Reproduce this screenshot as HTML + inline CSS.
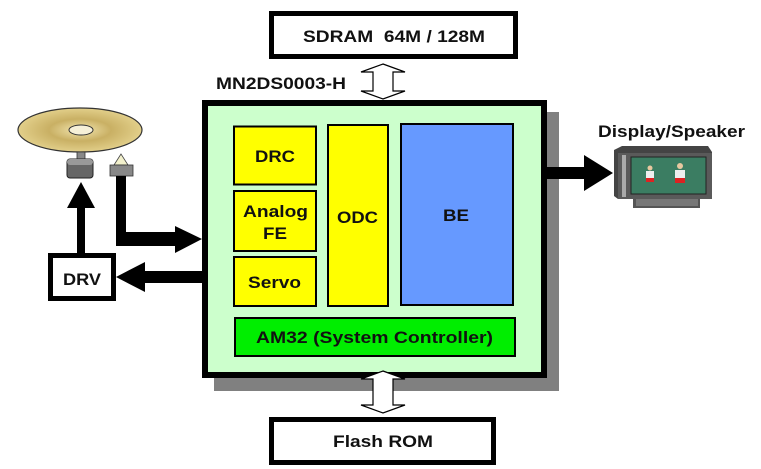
<!DOCTYPE html>
<html><head><meta charset="utf-8"><style>
html,body{margin:0;padding:0;background:#fff;width:761px;height:469px;overflow:hidden}
text{font-family:"Liberation Sans",Arial,sans-serif;font-weight:bold;fill:#111}
</style></head><body>
<svg width="761" height="469" viewBox="0 0 761 469" xmlns="http://www.w3.org/2000/svg">
<defs>
<radialGradient id="dg" cx="50%" cy="50%" r="50%">
<stop offset="0" stop-color="#f3e6b0"/><stop offset="0.5" stop-color="#c9b064"/><stop offset="1" stop-color="#e2cf8a"/>
</radialGradient>
</defs>
<rect x="271.5" y="13.5" width="244" height="43" fill="#fff" stroke="#000" stroke-width="5"/>
<text x="303" y="42" font-size="17" textLength="182" lengthAdjust="spacingAndGlyphs">SDRAM&#160; 64M / 128M</text>
<text x="216" y="89" font-size="17" textLength="130" lengthAdjust="spacingAndGlyphs">MN2DS0003-H</text>
<polygon points="383,64 405,72 393,72 393,91 405,91 383,99 361,91 373,91 373,72 361,72" fill="#fff" stroke="#000" stroke-width="1.2"/>
<rect x="214" y="112" width="345" height="279" fill="#808080"/>
<rect x="205" y="103" width="339" height="272" fill="#ccffcc" stroke="#000" stroke-width="6"/>
<polygon points="383,371 405,379 393,379 393,405 405,405 383,413 361,405 373,405 373,379 361,379" fill="#fff" stroke="#000" stroke-width="1.2"/>
<rect x="234" y="126.5" width="82" height="58" fill="#ffff00" stroke="#000" stroke-width="2"/>
<text x="255" y="162" font-size="17" textLength="40" lengthAdjust="spacingAndGlyphs">DRC</text>
<rect x="234" y="191" width="82" height="60" fill="#ffff00" stroke="#000" stroke-width="2"/>
<text x="243" y="217" font-size="17" textLength="65" lengthAdjust="spacingAndGlyphs">Analog</text>
<text x="263" y="239" font-size="17" textLength="24" lengthAdjust="spacingAndGlyphs">FE</text>
<rect x="234" y="257" width="82" height="49" fill="#ffff00" stroke="#000" stroke-width="2"/>
<text x="248" y="288" font-size="17" textLength="53" lengthAdjust="spacingAndGlyphs">Servo</text>
<rect x="328" y="125" width="60" height="181" fill="#ffff00" stroke="#000" stroke-width="2"/>
<text x="337" y="223" font-size="17" textLength="41" lengthAdjust="spacingAndGlyphs">ODC</text>
<rect x="401" y="124" width="112" height="181" fill="#6699ff" stroke="#000" stroke-width="2"/>
<text x="443" y="221" font-size="17" textLength="26" lengthAdjust="spacingAndGlyphs">BE</text>
<rect x="235" y="318" width="280" height="38" fill="#00ee00" stroke="#000" stroke-width="2"/>
<text x="256" y="343" font-size="17" textLength="237" lengthAdjust="spacingAndGlyphs">AM32 (System Controller)</text>
<rect x="271.5" y="419.5" width="222" height="43" fill="#fff" stroke="#000" stroke-width="5"/>
<text x="333" y="447" font-size="17" textLength="100" lengthAdjust="spacingAndGlyphs">Flash ROM</text>
<ellipse cx="80" cy="130" rx="62" ry="22" fill="url(#dg)" stroke="#333" stroke-width="1.2"/>
<ellipse cx="81" cy="130" rx="12" ry="5" fill="#f6f0d8" stroke="#333" stroke-width="1"/>
<rect x="77" y="152" width="8" height="9" fill="#888" stroke="#333" stroke-width="0.8"/>
<rect x="67" y="159" width="26" height="19" rx="3" fill="#666" stroke="#222" stroke-width="1"/>
<rect x="67" y="159" width="26" height="6" rx="3" fill="#999"/>
<polygon points="121,154 114,165 128,165" fill="#f2f0cc" stroke="#444" stroke-width="0.8"/>
<rect x="110" y="165" width="23" height="11" fill="#888" stroke="#333" stroke-width="0.8"/>
<rect x="50.5" y="255.5" width="63" height="43" fill="#fff" stroke="#000" stroke-width="5"/>
<text x="63" y="285" font-size="17" textLength="38" lengthAdjust="spacingAndGlyphs">DRV</text>
<rect x="77" y="205" width="8" height="48" fill="#000"/>
<polygon points="81,182 95,208 67,208" fill="#000"/>
<polygon points="116,176 126,176 126,232 175,232 175,226 202,239 175,253 175,246 116,246" fill="#000"/>
<polygon points="202,271 145,271 145,262 116,277 145,292 145,283 202,283" fill="#000"/>
<polygon points="547,167 584,167 584,155 613,173 584,191 584,179 547,179" fill="#000"/>
<text x="598" y="137" font-size="17" textLength="147" lengthAdjust="spacingAndGlyphs">Display/Speaker</text>
<rect x="633" y="197" width="67" height="11" fill="#555"/>
<rect x="636" y="199" width="62" height="7" fill="#777"/>
<polygon points="614,150 622,146 708,146 712,152 712,199 618,199 614,196" fill="#444"/>
<rect x="618" y="153" width="94" height="46" fill="#5a5a5a"/>
<rect x="622" y="155" width="4" height="42" fill="#aaa"/>
<rect x="631" y="157" width="75" height="37" fill="#3b7d62" stroke="#222" stroke-width="1"/>
<circle cx="650" cy="168" r="2.5" fill="#e8c8a0"/><rect x="646" y="171" width="8" height="8" fill="#eee"/><rect x="646" y="178" width="8" height="4" fill="#d22"/>
<circle cx="680" cy="166" r="3" fill="#e8c8a0"/><rect x="675" y="170" width="10" height="9" fill="#eee"/><rect x="675" y="178" width="10" height="5" fill="#d22"/>
</svg>
</body></html>
